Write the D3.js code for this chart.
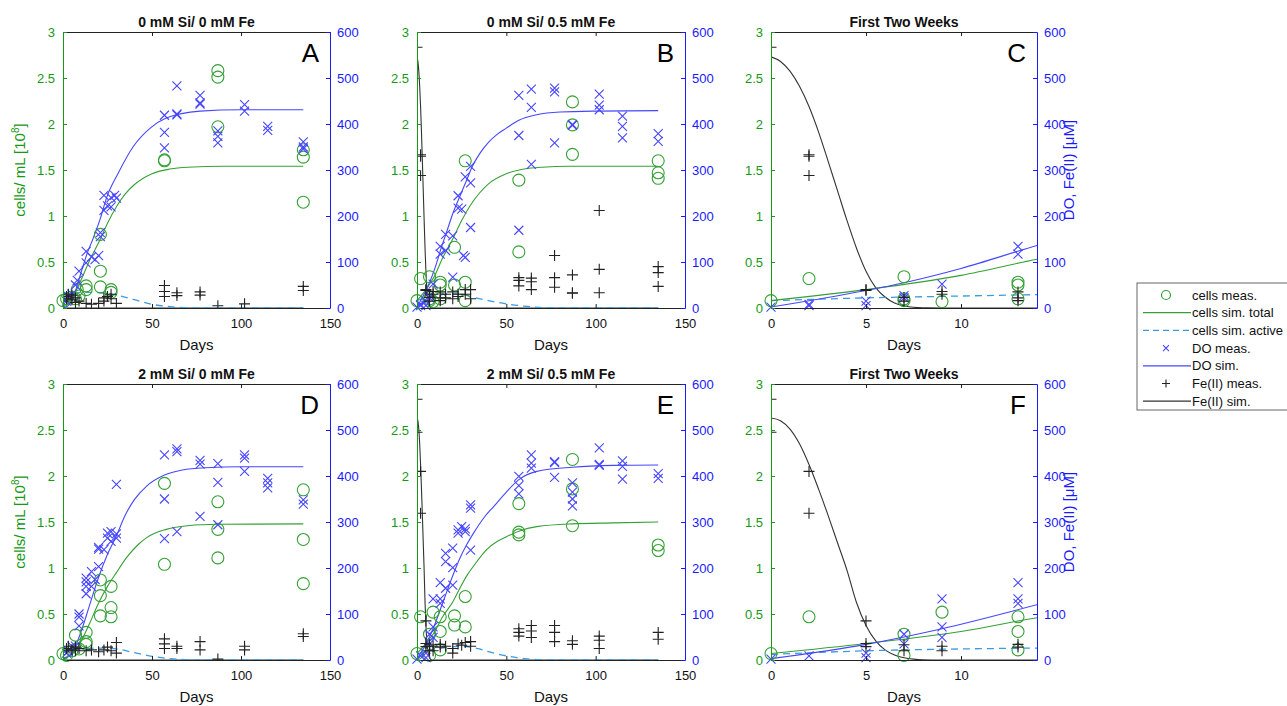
<!DOCTYPE html>
<html>
<head>
<meta charset="utf-8">
<script src="https://cdn.jsdelivr.net/npm/d3@7"></script>
<style>
  body { margin: 0; background: #fff; }
  svg { font-family: "Liberation Sans", Arial, sans-serif; }
</style>
</head>
<body>
<div id="chart"></div>
<script>
// ---- data: [day, value] ----
// cells in 10^8 cells/mL (left axis), DO and Fe(II) in uM (right axis)

// 0 mM Si / 0 mM Fe  (panel A)
var cellsMeasA = [[0,0.08],[2,0.1],[5,0.12],[7,0.1],[8,0.2],[9,0.13],[13,0.24],[13,0.2],[21,0.4],[21,0.23],[21,0.8],[27,0.2],[27,0.17],[57,1.6],[57,1.61],[87,2.58],[87,2.51],[87,1.97],[135,1.72],[135,1.64],[135,1.15]];
var doMeasA = [[2,15],[3,25],[5,30],[7,50],[8,60],[9,80],[13,123],[13,98],[16,111],[18,105],[20,114],[21,164],[21,155],[23,245],[23,212],[25,222],[27,240],[27,220],[29,245],[30,239],[57,419],[57,382],[57,348],[64,483],[64,422],[64,420],[77,462],[77,446],[77,443],[87,373],[87,359],[87,385],[102,442],[102,428],[115,395],[115,386],[135,361],[135,346],[135,350]];
var feMeasA = [[0,15],[2,25],[2,20],[3,30],[5,28],[5,18],[7,22],[7,12],[9,15],[13,10],[16,8],[20,10],[23,15],[23,22],[25,25],[27,30],[27,20],[30,10],[57,49],[57,36],[57,25],[64,33],[64,27],[77,35],[77,28],[87,5],[102,9],[135,47],[135,38]];
var cellsSimA = [[0,0.02],[5,0.1],[10,0.3],[15,0.52],[21,0.75],[25,0.92],[30,1.1],[35,1.24],[40,1.34],[50,1.46],[60,1.51],[70,1.53],[90,1.54],[135,1.54]];
var activeSimA = [[0,0.1],[5,0.16],[15,0.17],[25,0.16],[30,0.14],[40,0.09],[50,0.04],[60,0.015],[70,0.003],[80,0],[135,0]];
var doSimA = [[0,0],[3,5],[6.6,33],[10,75],[13.5,118],[17,152],[21,195],[24.5,240],[31,293],[39.5,351],[49,391],[58,413],[77,428],[100,431],[135,431]];
var feSimA = [[0,0],[135,0]];

// 0 mM Si / 0.5 mM Fe  (panels B and C)
var cellsMeasB = [[0,0.08],[2,0.32],[7,0.34],[7,0.1],[7,0.08],[9,0.07],[13,0.28],[13,0.25],[13,0.1],[21,0.66],[21,0.25],[27,1.6],[27,0.28],[27,0.08],[57,1.39],[57,0.61],[87,2.24],[87,1.99],[87,1.67],[135,1.6],[135,1.47],[135,1.41]];
var doMeasB = [[0,2],[2,8],[2,5],[5,15],[5,5],[7,27],[7,22],[9,52],[13,134],[13,117],[16,160],[16,125],[20,157],[20,67],[23,244],[23,217],[25,215],[26,114],[27,285],[27,110],[30,308],[30,272],[30,175],[57,462],[57,375],[57,169],[64,476],[64,436],[64,312],[77,478],[77,470],[77,359],[87,397],[87,399],[102,465],[102,441],[102,431],[115,417],[115,395],[115,370],[135,379],[135,362]];
var feMeasB = [[0,567],[2,333],[2,330],[2,288],[5,40],[5,38],[7,23],[7,15],[9,36],[9,30],[13,35],[13,22],[13,16],[16,30],[16,22],[20,35],[20,20],[23,30],[23,25],[27,40],[27,30],[30,40],[30,20],[57,66],[57,60],[57,48],[64,65],[64,57],[64,40],[77,114],[77,66],[77,45],[87,72],[87,33],[87,32],[102,212],[102,84],[102,33],[135,90],[135,77],[135,47]];
var cellsSimB = [[0,0.08],[5,0.2],[10,0.355],[14,0.53],[20,0.75],[25,0.95],[30,1.12],[35,1.25],[40,1.35],[50,1.46],[60,1.51],[70,1.53],[85,1.54],[135,1.54]];
var activeSimB = [[0,0.08],[5,0.11],[10,0.13],[14,0.145],[20,0.155],[25,0.15],[30,0.125],[40,0.08],[50,0.045],[60,0.02],[70,0.005],[80,0],[135,0]];
var doSimB = [[0,2],[5,38],[7,55],[10,86],[14,136],[17,170],[20,205],[24,243],[28,280],[31,308],[35,335],[40,360],[45,378],[50,391],[57,408],[67,420],[80,426],[100,428],[135,429]];
var feSimB = [[0,546],[0.5,536],[1,515],[1.5,482],[2,438],[2.5,383],[3,320],[3.5,255],[4,190],[4.5,130],[5,80],[5.5,45],[6,24],[6.5,11],[7,5],[7.5,1.5],[8,0.3],[9,0],[135,0]];

// 2 mM Si / 0 mM Fe  (panel D)
var cellsMeasD = [[0,0.07],[2,0.05],[5,0.1],[7,0.27],[9,0.12],[13,0.3],[13,0.2],[13,0.17],[21,0.87],[21,0.7],[21,0.48],[27,0.8],[27,0.57],[27,0.47],[57,1.92],[57,1.04],[87,1.72],[87,1.42],[87,1.11],[135,1.85],[135,1.31],[135,0.83]];
var doMeasD = [[2,15],[3,20],[5,30],[7,30],[9,100],[9,93],[9,74],[13,178],[13,170],[13,160],[13,144],[16,192],[16,160],[18,175],[20,245],[20,241],[20,203],[23,240],[25,265],[25,276],[27,279],[27,258],[30,274],[30,382],[30,265],[57,446],[57,350],[57,264],[64,459],[64,453],[64,279],[77,434],[77,426],[77,312],[87,427],[87,386],[87,294],[102,446],[102,439],[102,410],[115,395],[115,385],[115,374],[135,348],[135,339]];
var feMeasD = [[0,20],[2,25],[3,30],[5,22],[7,20],[7,28],[9,25],[13,20],[16,22],[20,18],[23,22],[25,28],[27,20],[30,38],[30,15],[57,46],[57,35],[57,25],[64,30],[64,25],[77,40],[77,22],[87,2],[102,30],[102,22],[135,57],[135,51]];
var cellsSimD = [[0,0.02],[5,0.06],[10,0.2],[15,0.4],[20,0.62],[25,0.8],[30,0.95],[36,1.12],[42,1.25],[47,1.33],[58,1.42],[70,1.46],[87,1.475],[135,1.48]];
var activeSimD = [[0,0.08],[5,0.1],[10,0.12],[20,0.13],[30,0.12],[40,0.08],[50,0.04],[60,0.015],[70,0.003],[80,0],[135,0]];
var doSimD = [[0,2],[5,15],[10,60],[15,120],[20,180],[25,230],[30,270],[35,315],[40,348],[47,378],[57,402],[67,413],[80,418],[100,420],[135,420]];
var feSimD = [[0,0],[135,0]];

// 2 mM Si / 0.5 mM Fe  (panels E and F)
var cellsMeasE = [[0,0.07],[2,0.47],[7,0.28],[7,0.05],[9,0.52],[13,0.47],[13,0.31],[13,0.11],[21,0.48],[21,0.38],[27,0.36],[27,0.69],[57,1.7],[57,1.39],[57,1.36],[87,2.18],[87,1.86],[87,1.46],[135,1.25],[135,1.19]];
var doMeasE = [[0,2],[2,9],[5,5],[5,15],[7,56],[7,35],[9,133],[9,72],[9,49],[13,168],[13,133],[13,123],[16,232],[16,214],[16,156],[20,243],[20,201],[20,163],[23,283],[23,276],[25,290],[27,279],[27,285],[30,330],[30,337],[30,239],[57,399],[57,379],[57,361],[64,446],[64,428],[64,417],[77,429],[77,431],[77,397],[87,385],[87,365],[87,350],[87,335],[102,461],[102,423],[102,425],[115,433],[115,421],[115,393],[135,405],[135,395]];
var feMeasE = [[0,567],[0,495],[2,410],[2,319],[5,85],[5,36],[5,29],[7,33],[7,20],[9,30],[9,20],[13,34],[13,28],[16,30],[20,25],[20,15],[23,35],[25,32],[27,38],[30,40],[30,30],[57,68],[57,60],[57,52],[64,75],[64,63],[64,49],[77,75],[77,60],[77,40],[87,42],[87,34],[102,52],[102,43],[102,25],[135,60],[135,45]];
var cellsSimE = [[0,0.07],[5,0.18],[10,0.31],[14,0.46],[20,0.63],[24,0.78],[28,0.92],[32,1.03],[39,1.2],[45,1.29],[50,1.34],[57,1.4],[67,1.45],[87,1.48],[110,1.49],[135,1.5]];
var activeSimE = [[0,0.06],[5,0.1],[10,0.12],[14,0.13],[20,0.145],[25,0.15],[30,0.14],[35,0.12],[40,0.09],[50,0.045],[60,0.015],[70,0.003],[80,0],[135,0]];
var doSimE = [[0,3],[5,34],[9,68],[14,120],[17,152],[20,183],[24,221],[28,252],[32,278],[38,312],[43,334],[50,365],[57,392],[67,410],[87,419],[110,423],[135,424]];
var feSimE = [[0,526],[0.5,520],[1,502],[1.5,470],[2,425],[2.5,372],[3,315],[3.5,255],[4,195],[4.5,125],[5,75],[5.5,42],[6,22],[6.5,11],[7,5],[7.5,2],[8,0.5],[9,0],[135,0]];

var longDayTicks = [0, 50, 100, 150];
var shortDayTicks = [0, 5, 10];
var cellTicks = [0, 0.5, 1, 1.5, 2, 2.5, 3];
var umTicks = [0, 100, 200, 300, 400, 500, 600];
var legendLabels = ["cells meas.", "cells sim. total", "cells sim. active", "DO meas.", "DO sim.", "Fe(II) meas.", "Fe(II) sim."];

// colours
var green = "#35a035", greenAxis = "#169916";
var blue = "#4646ff", blueAxis = "#1a1aff";
var lightBlue = "#3a9be0";

var svg = d3.select("#chart").append("svg")
  .attr("width", 1287)
  .attr("height", 706);

function crossPath(s) { return "M" + (-s) + "," + (-s) + "L" + s + "," + s + "M" + (-s) + "," + s + "L" + s + "," + (-s); }
function plusPath(s) { return "M" + (-s) + ",0L" + s + ",0M0," + (-s) + "L0," + s; }

var condA = {cm: cellsMeasA, dm: doMeasA, fm: feMeasA, cs: cellsSimA, as: activeSimA, ds: doSimA, fs: feSimA};
var condB = {cm: cellsMeasB, dm: doMeasB, fm: feMeasB, cs: cellsSimB, as: activeSimB, ds: doSimB, fs: feSimB};
var condD = {cm: cellsMeasD, dm: doMeasD, fm: feMeasD, cs: cellsSimD, as: activeSimD, ds: doSimD, fs: feSimD};
var condE = {cm: cellsMeasE, dm: doMeasE, fm: feMeasE, cs: cellsSimE, as: activeSimE, ds: doSimE, fs: feSimE};

var panels = [
  {left: 63,  top: 32,  w: 267, xMax: 150, ticks: longDayTicks,  title: "0 mM Si/ 0 mM Fe",   letter: "A", d: condA, leftLabel: true},
  {left: 417, top: 32,  w: 268, xMax: 150, ticks: longDayTicks,  title: "0 mM Si/ 0.5 mM Fe", letter: "B", d: condB},
  {left: 771, top: 32,  w: 266, xMax: 14,  ticks: shortDayTicks, title: "First Two Weeks",    letter: "C", d: condB, rightLabel: true},
  {left: 63,  top: 384, w: 267, xMax: 150, ticks: longDayTicks,  title: "2 mM Si/ 0 mM Fe",   letter: "D", d: condD, leftLabel: true},
  {left: 417, top: 384, w: 268, xMax: 150, ticks: longDayTicks,  title: "2 mM Si/ 0.5 mM Fe", letter: "E", d: condE},
  {left: 771, top: 384, w: 266, xMax: 14,  ticks: shortDayTicks, title: "First Two Weeks",    letter: "F", d: condE, rightLabel: true}
];
var plotH = 276;

panels.forEach(function(p, i) {
  var g = svg.append("g").attr("transform", "translate(" + p.left + "," + p.top + ")");
  var x = d3.scaleLinear().domain([0, p.xMax]).range([0, p.w]);
  var yL = d3.scaleLinear().domain([0, 3]).range([plotH, 0]);
  var yR = d3.scaleLinear().domain([0, 600]).range([plotH, 0]);

  g.append("clipPath").attr("id", "clip" + i)
    .append("rect").attr("width", p.w).attr("height", plotH + 1);

  var inRange = function(pt) { return pt[0] <= p.xMax + 0.01; };

  // simulated lines
  var lines = g.append("g").attr("clip-path", "url(#clip" + i + ")");
  var lineL = d3.line().x(function(d) { return x(d[0]); }).y(function(d) { return yL(d[1]); }).curve(d3.curveMonotoneX);
  var lineR = d3.line().x(function(d) { return x(d[0]); }).y(function(d) { return yR(d[1]); }).curve(d3.curveMonotoneX);

  lines.append("path").attr("d", lineR(p.d.fs)).attr("fill", "none").attr("stroke", "#333").attr("stroke-width", 1.1);
  lines.append("path").attr("d", lineL(p.d.as)).attr("fill", "none").attr("stroke", lightBlue).attr("stroke-width", 1.3).attr("stroke-dasharray", "7,5");
  lines.append("path").attr("d", lineL(p.d.cs)).attr("fill", "none").attr("stroke", green).attr("stroke-width", 1.1);
  lines.append("path").attr("d", lineR(p.d.ds)).attr("fill", "none").attr("stroke", blue).attr("stroke-width", 1.1);

  // measured points
  g.append("g").selectAll("circle")
    .data(p.d.cm.filter(inRange))
    .enter().append("circle")
    .attr("cx", function(d) { return x(d[0]); })
    .attr("cy", function(d) { return yL(d[1]); })
    .attr("r", 6)
    .attr("fill", "none")
    .attr("stroke", green)
    .attr("stroke-width", 1.1);

  g.append("g").selectAll("path")
    .data(p.d.dm.filter(inRange))
    .enter().append("path")
    .attr("transform", function(d) { return "translate(" + x(d[0]) + "," + yR(d[1]) + ")"; })
    .attr("d", crossPath(4.5))
    .attr("stroke", blue)
    .attr("stroke-width", 1.1);

  // the day-0 Fe(II) crosses are cut by the axis in the original
  g.append("g").attr("clip-path", "url(#clip" + i + ")").selectAll("path")
    .data(p.d.fm.filter(inRange))
    .enter().append("path")
    .attr("transform", function(d) { return "translate(" + x(d[0]) + "," + yR(d[1]) + ")"; })
    .attr("d", plusPath(5.5))
    .attr("stroke", "#222")
    .attr("stroke-width", 1.1);

  // axes
  var bottom = g.append("g").attr("transform", "translate(0," + plotH + ")")
    .call(d3.axisBottom(x).tickValues(p.ticks).tickSizeInner(-4).tickSizeOuter(0).tickPadding(11));
  var top = g.append("g")
    .call(d3.axisTop(x).tickValues(p.ticks).tickSizeInner(-4).tickSizeOuter(0).tickFormat(""));
  var left = g.append("g")
    .call(d3.axisLeft(yL).tickValues(cellTicks).tickSizeInner(-4).tickSizeOuter(0).tickPadding(8).tickFormat(d3.format("")));
  var right = g.append("g").attr("transform", "translate(" + p.w + ",0)")
    .call(d3.axisRight(yR).tickValues(umTicks).tickSizeInner(-4).tickSizeOuter(0).tickPadding(7));

  [bottom, top].forEach(function(a) {
    a.select(".domain").attr("stroke", "#222");
    a.selectAll(".tick line").attr("stroke", "#222");
    a.selectAll("text").attr("fill", "#111").attr("font-size", 13).attr("font-family", "Liberation Sans, Arial, sans-serif");
  });
  left.select(".domain").attr("stroke", greenAxis);
  left.selectAll(".tick line").attr("stroke", greenAxis);
  left.selectAll("text").attr("fill", greenAxis).attr("font-size", 13).attr("font-family", "Liberation Sans, Arial, sans-serif");
  right.select(".domain").attr("stroke", blueAxis);
  right.selectAll(".tick line").attr("stroke", blueAxis);
  right.selectAll("text").attr("fill", blueAxis).attr("font-size", 13).attr("font-family", "Liberation Sans, Arial, sans-serif");

  // title, x label, panel letter
  g.append("text")
    .attr("x", p.w / 2).attr("y", -5)
    .attr("text-anchor", "middle")
    .attr("font-size", 14).attr("font-weight", "bold").attr("fill", "#111")
    .text(p.title);
  g.append("text")
    .attr("x", p.w / 2).attr("y", plotH + 42)
    .attr("text-anchor", "middle")
    .attr("font-size", 15).attr("fill", "#111")
    .text("Days");
  g.append("text")
    .attr("x", p.w - 11).attr("y", 30)
    .attr("text-anchor", "end")
    .attr("font-size", 26).attr("fill", "#000")
    .text(p.letter);

  if (p.leftLabel) {
    var yl = g.append("text")
      .attr("transform", "translate(-38," + (plotH / 2) + ") rotate(-90)")
      .attr("text-anchor", "middle")
      .attr("font-size", 15).attr("fill", greenAxis);
    yl.append("tspan").text("cells/ mL [10");
    yl.append("tspan").attr("font-size", 10).attr("dy", -6).text("8");
    yl.append("tspan").attr("dy", 6).text("]");
  }
  if (p.rightLabel) {
    g.append("text")
      .attr("transform", "translate(" + (p.w + 37) + "," + (plotH / 2) + ") rotate(-90)")
      .attr("text-anchor", "middle")
      .attr("font-size", 15).attr("fill", blueAxis)
      .text("DO, Fe(II) [\u03bcM]");
  }
});

// legend
var lg = svg.append("g").attr("transform", "translate(1137,283)");
lg.append("rect").attr("width", 160).attr("height", 127)
  .attr("fill", "#fff").attr("stroke", "#666").attr("stroke-width", 1);
legendLabels.forEach(function(label, i) {
  var yy = 12 + i * 17.7;
  var row = lg.append("g").attr("transform", "translate(0," + yy + ")");
  if (i === 0) row.append("circle").attr("cx", 29).attr("r", 4.5).attr("fill", "none").attr("stroke", green).attr("stroke-width", 1.2);
  if (i === 1) row.append("line").attr("x1", 6).attr("x2", 54).attr("stroke", green).attr("stroke-width", 1.2);
  if (i === 2) row.append("line").attr("x1", 6).attr("x2", 54).attr("stroke", lightBlue).attr("stroke-width", 1.3).attr("stroke-dasharray", "6,4");
  if (i === 3) row.append("path").attr("transform", "translate(29,0)").attr("d", crossPath(3)).attr("stroke", blue).attr("stroke-width", 1.1);
  if (i === 4) row.append("line").attr("x1", 6).attr("x2", 54).attr("stroke", blue).attr("stroke-width", 1.2);
  if (i === 5) row.append("path").attr("transform", "translate(29,0)").attr("d", plusPath(4)).attr("stroke", "#222").attr("stroke-width", 1.1);
  if (i === 6) row.append("line").attr("x1", 6).attr("x2", 54).attr("stroke", "#333").attr("stroke-width", 1.2);
  row.append("text").attr("x", 55).attr("dy", "0.35em")
    .attr("font-size", 13).attr("fill", "#111").text(label);
});
</script>
</body>
</html>
